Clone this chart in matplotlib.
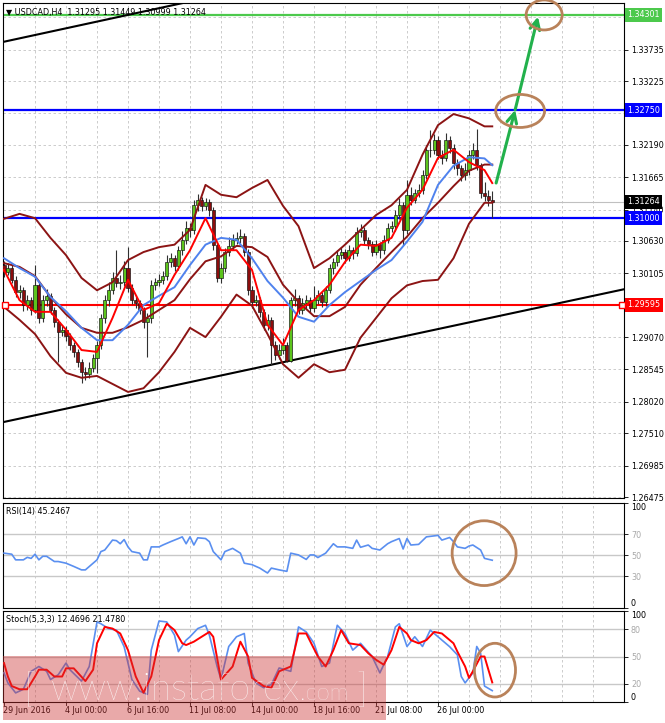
import numpy as np
import matplotlib.pyplot as plt
import matplotlib.transforms as mtransforms
from matplotlib.patches import Ellipse, Rectangle

plt.rcParams['font.family'] = ['DejaVu Sans']

# ---------------- data ----------------
opens = [
    1.3024, 1.3013, 1.3019, 1.3000, 1.2980, 1.2983, 1.2959, 1.2967, 1.2951, 1.2992,
    1.2938, 1.2967, 1.2974, 1.2951, 1.2932, 1.2915, 1.2919, 1.2909, 1.2894, 1.2883,
    1.2867, 1.2850, 1.2847, 1.2857, 1.2873, 1.2894, 1.2938, 1.2967, 1.2983, 1.3003,
    1.2995, 1.2996, 1.3019, 1.2987, 1.2967, 1.2962, 1.2951, 1.2932, 1.2938, 1.2992,
    1.2996, 1.3000, 1.3006, 1.3029, 1.3035, 1.3022, 1.3048, 1.3065, 1.3084, 1.3081,
    1.3121, 1.3130, 1.3120, 1.3126, 1.3113, 1.3056, 1.3003, 1.3019, 1.3045, 1.3055,
    1.3065, 1.3068, 1.3071, 1.3045, 1.2983, 1.2964, 1.2967, 1.2948, 1.2927, 1.2935,
    1.2894, 1.2878, 1.2886, 1.2894, 1.2868, 1.2967, 1.2971, 1.2951, 1.2962, 1.2967,
    1.2954, 1.2967, 1.2975, 1.2964, 1.2983, 1.3019, 1.3029, 1.3040, 1.3045, 1.3035,
    1.3048, 1.3043, 1.3078, 1.3081, 1.3065, 1.3058, 1.3045, 1.3058, 1.3048, 1.3065,
    1.3084, 1.3087, 1.3105, 1.3121, 1.3081, 1.3138, 1.3130, 1.3141, 1.3146, 1.3170,
    1.3211, 1.3211, 1.3227, 1.3203, 1.3198, 1.3227, 1.3214, 1.3190, 1.3181, 1.3170,
    1.3178, 1.3203, 1.3211, 1.3186, 1.3141, 1.3136, 1.31295]
highs = [
    1.3030, 1.3028, 1.3024, 1.3006, 1.2992, 1.2988, 1.2975, 1.2972, 1.3024, 1.2998,
    1.2975, 1.2985, 1.2979, 1.2956, 1.2936, 1.2926, 1.2925, 1.2913, 1.2899, 1.2888,
    1.2871, 1.2858, 1.2866, 1.2880, 1.2901, 1.2945, 1.2976, 1.2997, 1.3012, 1.3048,
    1.3008, 1.3030, 1.3053, 1.2993, 1.2975, 1.2968, 1.2956, 1.2946, 1.3000, 1.3003,
    1.3010, 1.3014, 1.3040, 1.3044, 1.3040, 1.3055, 1.3080, 1.3096, 1.3092, 1.3130,
    1.3139, 1.3134, 1.3133, 1.3131, 1.3118, 1.3060, 1.3027, 1.3052, 1.3070, 1.3074,
    1.3077, 1.3082, 1.3076, 1.3050, 1.2990, 1.2976, 1.2972, 1.2953, 1.2944, 1.2940,
    1.2900, 1.2896, 1.2905, 1.2899, 1.2972, 1.2985, 1.2976, 1.2970, 1.2975, 1.2972,
    1.2990, 1.2983, 1.2980, 1.2990, 1.3026, 1.3036, 1.3048, 1.3054, 1.3050, 1.3056,
    1.3053, 1.3086, 1.3090, 1.3086, 1.3070, 1.3063, 1.3065, 1.3062, 1.3072, 1.3092,
    1.3096, 1.3113, 1.3132, 1.3126, 1.3162, 1.3150, 1.3148, 1.3155, 1.3178, 1.3219,
    1.3243, 1.3236, 1.3233, 1.3210, 1.3238, 1.3233, 1.3220, 1.3196, 1.3187, 1.3190,
    1.3210, 1.3222, 1.3245, 1.3190, 1.3158, 1.3146, 1.31449]
lows = [
    1.3005, 1.3007, 1.2994, 1.2972, 1.2970, 1.2950, 1.2951, 1.2943, 1.2946, 1.2930,
    1.2932, 1.2958, 1.2944, 1.2924, 1.2866, 1.2908, 1.2900, 1.2886, 1.2875, 1.2858,
    1.2832, 1.2838, 1.2840, 1.2851, 1.2849, 1.2888, 1.2930, 1.2958, 1.2977, 1.2988,
    1.2985, 1.2990, 1.2980, 1.2960, 1.2954, 1.2944, 1.2921, 1.2875, 1.2930, 1.2984,
    1.2990, 1.2993, 1.3000, 1.3021, 1.3015, 1.3016, 1.3040, 1.3058, 1.3070, 1.3075,
    1.3112, 1.3112, 1.3114, 1.3104, 1.3048, 1.2996, 1.2995, 1.3012, 1.3038, 1.3048,
    1.3058, 1.3060, 1.3038, 1.2975, 1.2955, 1.2957, 1.2940, 1.2918, 1.2919, 1.2862,
    1.2870, 1.2872, 1.2880, 1.2866, 1.2866, 1.2958, 1.2944, 1.2945, 1.2953, 1.2946,
    1.2948, 1.2960, 1.2956, 1.2958, 1.2978, 1.3010, 1.3022, 1.3034, 1.3027, 1.3030,
    1.3033, 1.3038, 1.3070, 1.3058, 1.3050, 1.3038, 1.3040, 1.3035, 1.3042, 1.3060,
    1.3078, 1.3080, 1.3098, 1.3056, 1.3075, 1.3121, 1.3124, 1.3135, 1.3140, 1.3163,
    1.3200, 1.3204, 1.3196, 1.3188, 1.3192, 1.3205, 1.3180, 1.3170, 1.3160, 1.3162,
    1.3170, 1.3196, 1.3178, 1.3133, 1.3128, 1.3120, 1.30999]
closes = [
    1.3013, 1.3019, 1.3000, 1.2980, 1.2983, 1.2959, 1.2967, 1.2951, 1.2992, 1.2938,
    1.2967, 1.2974, 1.2951, 1.2932, 1.2915, 1.2919, 1.2909, 1.2894, 1.2883, 1.2867,
    1.2850, 1.2847, 1.2857, 1.2873, 1.2894, 1.2938, 1.2967, 1.2983, 1.3003, 1.2995,
    1.2996, 1.3019, 1.2987, 1.2967, 1.2962, 1.2951, 1.2932, 1.2938, 1.2992, 1.2996,
    1.3000, 1.3006, 1.3029, 1.3035, 1.3022, 1.3048, 1.3065, 1.3084, 1.3081, 1.3121,
    1.3130, 1.3120, 1.3126, 1.3113, 1.3056, 1.3003, 1.3019, 1.3045, 1.3055, 1.3065,
    1.3068, 1.3071, 1.3045, 1.2983, 1.2964, 1.2967, 1.2948, 1.2927, 1.2935, 1.2894,
    1.2878, 1.2886, 1.2894, 1.2868, 1.2967, 1.2971, 1.2951, 1.2962, 1.2967, 1.2954,
    1.2967, 1.2975, 1.2964, 1.2983, 1.3019, 1.3029, 1.3040, 1.3045, 1.3035, 1.3048,
    1.3043, 1.3078, 1.3081, 1.3065, 1.3058, 1.3045, 1.3058, 1.3048, 1.3065, 1.3084,
    1.3087, 1.3105, 1.3121, 1.3081, 1.3138, 1.3130, 1.3141, 1.3146, 1.3170, 1.3211,
    1.3211, 1.3227, 1.3203, 1.3198, 1.3227, 1.3214, 1.3190, 1.3181, 1.3170, 1.3178,
    1.3203, 1.3211, 1.3186, 1.3141, 1.3136, 1.31295, 1.31264]

# indicator lines, read every 4 bars
ind_bars = [0, 4, 8, 12, 16, 20, 24, 28, 32, 36, 40, 44, 48, 52, 56, 60, 64,
            68, 72, 76, 80, 84, 88, 92, 96, 100, 104, 108, 112, 116, 120, 124, 126]
bb_upper = [1.3099, 1.3107, 1.3100, 1.3068, 1.3040, 1.3003, 1.2983, 1.2996, 1.3032,
            1.3045, 1.3053, 1.3057, 1.3081, 1.3154, 1.3138, 1.3134, 1.3149, 1.3162,
            1.3120, 1.3087, 1.3019, 1.3035, 1.3057, 1.3081, 1.3105, 1.3121, 1.3146,
            1.3203, 1.3251, 1.3269, 1.3262, 1.3249, 1.3249]
bb_mid = [1.3027, 1.3021, 1.3006, 1.2972, 1.2944, 1.2922, 1.2914, 1.2914, 1.2923,
          1.2935, 1.2951, 1.2967, 1.3001, 1.3030, 1.3038, 1.3055, 1.3053, 1.3037,
          1.2992, 1.2964, 1.2941, 1.2941, 1.2956, 1.2992, 1.3019, 1.3045, 1.3070,
          1.3100, 1.3125, 1.3152, 1.3177, 1.3187, 1.3187]
bb_lower = [1.2956, 1.2935, 1.2912, 1.2876, 1.2849, 1.2841, 1.2844, 1.2831, 1.2818,
            1.2824, 1.2850, 1.2883, 1.2922, 1.2907, 1.2940, 1.2976, 1.2958, 1.2912,
            1.2863, 1.2841, 1.2863, 1.2850, 1.2854, 1.2906, 1.2938, 1.2970, 1.2991,
            1.2998, 1.3000, 1.3035, 1.3091, 1.3125, 1.3125]
ma_fast = [1.3016, 1.2967, 1.2948, 1.2948, 1.2919, 1.2886, 1.2883, 1.2938, 1.3000,
           1.2951, 1.2962, 1.3008, 1.3048, 1.3100, 1.3048, 1.3048, 1.3016, 1.2927,
           1.2894, 1.2951, 1.2967, 1.2992, 1.3029, 1.3057, 1.3055, 1.3068, 1.3117,
           1.3146, 1.3198, 1.3211, 1.3191, 1.3178, 1.3157]
ma_slow = [1.3035, 1.3019, 1.3005, 1.2972, 1.2949, 1.2922, 1.2902, 1.2902, 1.2927,
           1.2959, 1.2974, 1.2988, 1.3024, 1.3057, 1.3068, 1.3065, 1.3035, 1.2998,
           1.2971, 1.2940, 1.2932, 1.2959, 1.2980, 1.2998, 1.3016, 1.3032, 1.3062,
           1.3094, 1.3154, 1.3185, 1.3199, 1.3197, 1.3186]

rsi_bars = [0, 2, 3, 5, 6, 7, 8, 9, 10, 11, 13, 14, 16, 18, 20, 21, 23, 24, 25, 26,
            28, 29, 30, 31, 32, 33, 35, 36, 37, 38, 40, 41, 43, 45, 46, 47, 48, 49, 50, 52,
            53, 54, 56, 57, 59, 61, 62, 64, 66, 68, 69, 71, 73, 74, 76, 78, 79, 80, 81, 83,
            85, 86, 88, 90, 91, 92, 94, 95, 97, 99, 100, 102, 103, 104, 105, 107, 109, 112,
            113, 115, 116, 117, 119, 120, 121, 123, 124, 126]
rsi_vals = [52, 51, 45.6, 45.6, 48, 47, 51, 45.6, 49, 49, 44, 44, 42.4, 39.3, 36, 36,
            42.4, 45.6, 53.5, 55, 64.5, 64, 61, 65, 58, 53.5, 52, 45.6, 45.6, 58, 58, 59.8,
            63, 66, 67.6, 61, 67.6, 59.8, 66.7, 66, 63, 53.5, 45.6, 53.5, 56.6, 52, 42.4,
            41, 37.7, 33, 37.7, 36, 34.6, 52, 50.3, 46, 50.3, 50.3, 47.8, 52, 61, 58, 58,
            56.6, 64.5, 57.6, 59.8, 56.6, 55, 61, 63, 66, 56, 66, 59.8, 60.4, 67.6, 69,
            64.5, 67, 63, 58, 56.6, 58.8, 59.8, 55, 47, 45.25]

stoch_k_bars = [0, 1, 3, 5, 7, 9, 11, 12, 14, 16, 17, 20, 22, 24, 25, 27, 29, 31, 33, 35,
                37, 38, 40, 42, 44, 45, 47, 48, 50, 52, 53, 55, 56, 58, 60, 62, 63, 65, 67,
                69, 71, 74, 76, 78, 80, 82, 84, 86, 88, 90, 92, 95, 97, 99, 101, 102, 104,
                106, 108, 110, 112, 115, 117, 118, 119, 121, 122, 123, 124, 126]
stoch_k = [32, 21, 10, 14, 33.7, 39, 33.7, 24.7, 30, 42.8, 35.5, 23, 39, 88, 86, 80.7,
           79, 60.8, 24.7, 12, 8.4, 57, 89, 88, 73.5, 55.4, 68, 71.7, 80.7, 84.3, 73.5,
           39, 24.7, 61, 71.7, 75.3, 42.8, 21, 15.7, 19.3, 37.4, 33.7, 82.5, 77, 64.5, 39,
           42.8, 84.3, 75.3, 57, 64.5, 50, 32, 50, 82.5, 86, 61, 71.7, 61, 79, 71.7, 60.8,
           51.8, 28, 21, 32, 61, 53.6, 17.5, 12.47]
stoch_d_bars = [0, 1, 2, 4, 6, 8, 9, 11, 13, 15, 16, 18, 21, 23, 24, 26, 28, 30, 32, 34,
                36, 38, 40, 42, 44, 46, 47, 49, 51, 53, 54, 56, 59, 61, 63, 64, 67, 69, 71,
                74, 76, 78, 81, 83, 85, 87, 89, 92, 94, 96, 98, 100, 102, 104, 105, 107,
                109, 111, 113, 116, 117, 119, 120, 121, 123, 124, 125, 126]
stoch_d = [42.8, 28, 17.5, 14, 14, 28, 35.5, 35.5, 28, 28, 37, 37, 23, 35.5, 64.5, 82.5,
           80.7, 75.3, 57, 28, 10.2, 28, 68, 86, 79, 64.5, 62.6, 66.3, 71.7, 77, 71.7,
           24.7, 39, 66.3, 50, 26.5, 17.5, 15.7, 33.7, 39, 75.3, 75.3, 50, 39, 57, 79,
           64.5, 62.6, 53.6, 46.4, 41, 57, 82.5, 75.3, 68, 64.5, 68, 77, 75.3, 64.5, 55.4,
           39, 26.5, 33.7, 50, 50, 35.5, 21.48]

price_ticks = [1.26475, 1.26985, 1.27510, 1.28020, 1.28545, 1.29070, 1.29595, 1.30105,
               1.30630, 1.31140, 1.31665, 1.32190, 1.32700, 1.33225, 1.33735, 1.34260]
date_bars = [0, 16, 32, 48, 64, 80, 96, 112]
date_labels = ['29 Jun 2016', '4 Jul 00:00', '6 Jul 16:00', '11 Jul 08:00',
               '14 Jul 00:00', '18 Jul 16:00', '21 Jul 08:00', '26 Jul 00:00']

level_green = 1.34301
levels_blue = [1.32750, 1.31000]
level_red = 1.29595
last_price = 1.31264

# trend line anchors (bar, price)
upper_tl = ([-1, 60], [1.3385, 1.3468])
lower_tl = ([-1, 161], [1.2768, 1.2986])

# ---------------- layout ----------------
W, H = 665, 723
fig = plt.figure(figsize=(W / 100, H / 100), dpi=100)
fig.patch.set_facecolor('white')


def frac(x0, y0, x1, y1):
    return [x0 / W, 1 - y1 / H, (x1 - x0) / W, (y1 - y0) / H]


ax = fig.add_axes(frac(3, 3, 624, 498))
ax_rsi = fig.add_axes(frac(3, 503, 624, 607.5))
ax_st = fig.add_axes(frac(3, 611, 624, 702))

XMIN, XMAX = -0.26, 160.0
FS = 5.8
grid_bars = list(range(8, 160, 8))
GRID = dict(color='#c4c4c4', linestyle=(0, (3, 3)), linewidth=0.6)

for a in (ax, ax_rsi, ax_st):
    a.set_xlim(XMIN, XMAX)
    for s in a.spines.values():
        s.set_linewidth(0.8)
        s.set_color('black')
    a.set_xticks(grid_bars)
    a.set_xticklabels([])
    a.tick_params(axis='x', length=0)
    a.xaxis.grid(True, **GRID)
    a.set_axisbelow(True)
    a.yaxis.tick_right()

# ---------------- main price panel ----------------
ax.set_ylim(1.26459, 1.34492)
ax.set_yticks(price_ticks)
# tick values that sit under a level box are hidden by it on the terminal
hidden = {1.29595, 1.32700, 1.34260}
ax.set_yticklabels(['' if t in hidden else '%.5f' % t for t in price_ticks], fontsize=FS)
ax.tick_params(axis='y', length=3, width=0.6, pad=2)
ax.yaxis.grid(True, **GRID)

bars = np.arange(len(closes))
o = np.array(opens)
c = np.array(closes)
up = c >= o
ax.vlines(bars, lows, highs, color='#303030', linewidth=0.8, zorder=3)
body_lo = np.minimum(o, c)
body_h = np.maximum(np.abs(c - o), 0.00004)
ax.bar(bars, body_h, bottom=body_lo, width=0.8,
       color=np.where(up, '#5cc41c', '#8b0d0d'), edgecolor='#101010',
       linewidth=0.45, zorder=3.5)

ax.axhline(last_price, color='#c0c0c0', linewidth=0.8, zorder=2)
ax.axhline(level_green, color='#4cc94c', linewidth=1.6, zorder=2)
for lv in levels_blue:
    ax.axhline(lv, color='#0000ff', linewidth=1.6, zorder=2)
ax.axhline(level_red, color='#ff0000', linewidth=1.5, zorder=2)
ax.plot([0.3, 159.5], [level_red, level_red], linestyle='none', marker='s',
        markersize=4, markerfacecolor='white', markeredgecolor='red',
        markeredgewidth=1, zorder=6, clip_on=False)

ax.plot(*upper_tl, color='black', linewidth=1.5, zorder=2.5)
ax.plot(*lower_tl, color='black', linewidth=1.5, zorder=2.5)

for band in (bb_upper, bb_mid, bb_lower):
    ax.plot(ind_bars, band, color='#8c1414', linewidth=1.4, zorder=4,
            solid_joinstyle='round')
ax.plot(ind_bars, ma_slow, color='#4f82ee', linewidth=1.4, zorder=4.5,
        solid_joinstyle='round')
ax.plot(ind_bars, ma_fast, color='#ff0000', linewidth=1.4, zorder=5,
        solid_joinstyle='round')

# forecast arrows and circles
arrow_kw = dict(arrowstyle='->,head_length=0.7,head_width=0.35', color='#22b14c',
                linewidth=2.2, shrinkA=0, shrinkB=0)
ax.annotate('', xy=(131.9, 1.32756), xytext=(127.0, 1.31571), arrowprops=arrow_kw, zorder=7)
ax.annotate('', xy=(137.8, 1.34270), xytext=(131.9, 1.32756), arrowprops=arrow_kw, zorder=7)
circle_col = '#b9825a'
ax.add_patch(Ellipse((133.2, 1.3274), 12.6, 0.00536, fill=False, edgecolor=circle_col,
                     linewidth=2, zorder=8, clip_on=False))
ax.add_patch(Ellipse((139.4, 1.34298), 9.3, 0.00487, fill=False, edgecolor=circle_col,
                     linewidth=2, zorder=8, clip_on=False))

# price boxes on the right axis
btrans = mtransforms.blended_transform_factory(ax.transAxes, ax.transData)
for val, col in [(level_green, '#4cc94c'), (levels_blue[0], '#0000ff'),
                 (last_price, '#000000'), (levels_blue[1], '#0000ff'),
                 (level_red, '#ff0000')]:
    ax.text(1.0 + 3 / 621, val, '%.5f' % val, transform=btrans, ha='left', va='center',
            fontsize=FS, color='white', zorder=10, clip_on=False,
            bbox=dict(boxstyle='square,pad=0.3', facecolor=col, edgecolor='none'))

ax.text(0.005, 0.99, '\u25bc USDCAD,H4  1.31295 1.31449 1.30999 1.31264',
        transform=ax.transAxes, ha='left', va='top', fontsize=FS, zorder=9)

# ---------------- RSI panel ----------------
ax_rsi.set_ylim(0, 100)
rsi_ticks = [0, 30, 50, 70, 100]
ax_rsi.set_yticks(rsi_ticks)
ax_rsi.set_yticklabels([str(t) for t in rsi_ticks], fontsize=FS)
ax_rsi.tick_params(axis='y', length=3, width=0.6, pad=2)
for lv in (30, 50, 70):
    ax_rsi.axhline(lv, color='#c8c8c8', linewidth=1.0, zorder=1)
ax_rsi.plot(rsi_bars, rsi_vals, color='#5a8ff0', linewidth=1.2, zorder=3)
ax_rsi.text(0.005, 0.96, 'RSI(14) 45.2467', transform=ax_rsi.transAxes,
            ha='left', va='top', fontsize=FS)
ax_rsi.add_patch(Ellipse((123.9, 52), 16.5, 62, fill=False, edgecolor=circle_col,
                         linewidth=2, zorder=8, clip_on=False))

# ---------------- Stochastic panel ----------------
ax_st.set_ylim(0, 100)
st_ticks = [0, 20, 50, 80, 100]
ax_st.set_yticks(st_ticks)
ax_st.set_yticklabels([str(t) for t in st_ticks], fontsize=FS)
ax_st.tick_params(axis='y', length=3, width=0.6, pad=2)
for lv in (20, 50, 80):
    ax_st.axhline(lv, color='#c8c8c8', linewidth=1.0, zorder=1)
ax_st.plot(stoch_k_bars, stoch_k, color='#5a8ff0', linewidth=1.2, zorder=3)
ax_st.plot(stoch_d_bars, stoch_d, color='#ff0000', linewidth=1.4, zorder=4)
ax_st.text(0.005, 0.955, 'Stoch(5,3,3) 12.4696 21.4780', transform=ax_st.transAxes,
           ha='left', va='top', fontsize=FS)
ax_st.add_patch(Ellipse((126.7, 35), 10.6, 59, fill=False, edgecolor=circle_col,
                        linewidth=2, zorder=8, clip_on=False))

for a, levels in ((ax_rsi, ('30', '50', '70')), (ax_st, ('20', '50', '80'))):
    for lbl in a.get_yticklabels():
        t = lbl.get_text()
        if t == '100':
            lbl.set_va('top')
        elif t == '0':
            lbl.set_va('bottom')
        elif t in levels:
            lbl.set_color('#a8a8a8')

# date labels under the bottom panel
dtrans = mtransforms.blended_transform_factory(ax_st.transData, ax_st.transAxes)
for b, lbl in zip(date_bars, date_labels):
    ax_st.text(b - 0.3, -0.04, lbl, transform=dtrans, ha='left', va='top',
               fontsize=FS, clip_on=False)
    ax_st.plot([b, b], [0, -0.03], transform=dtrans, color='black',
               linewidth=0.6, clip_on=False)

# ---------------- watermark ----------------
fig.add_artist(Rectangle((3 / W, 1 - 720 / H), 383 / W, 64 / H, transform=fig.transFigure,
                         facecolor=(0.80, 0.20, 0.20), alpha=0.42, edgecolor='none',
                         zorder=20))
wm = dict(color='white', va='baseline', ha='left', zorder=21, family=['Lato', 'DejaVu Sans'],
          weight='light')
fig.text(24 / W, 1 - 702 / H, '[', fontsize=28, **wm)
fig.text(51 / W, 1 - 700 / H, 'www.instaforex', fontsize=27, **wm)
fig.text(300 / W, 1 - 700 / H, '.com', fontsize=17, **wm)
fig.text(356 / W, 1 - 702 / H, ']', fontsize=28, **wm)

fig.savefig('out.png', dpi=100)
